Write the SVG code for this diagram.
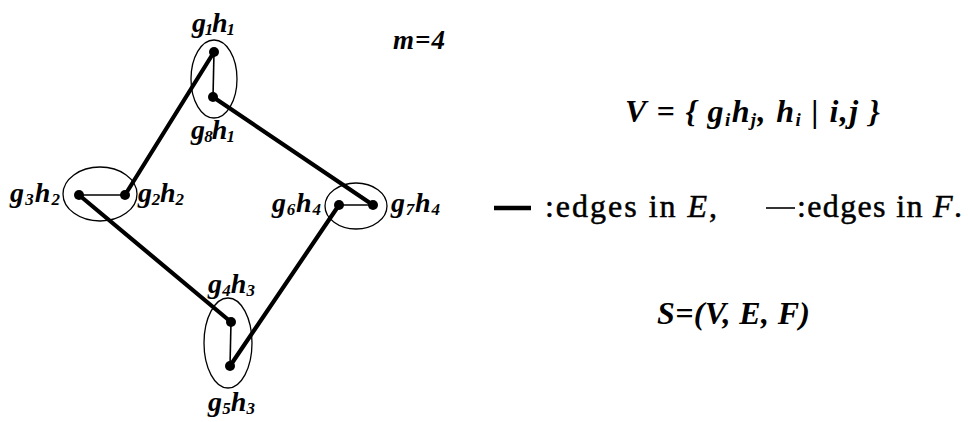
<svg xmlns="http://www.w3.org/2000/svg" width="968" height="422" viewBox="0 0 968 422">
<style>
.bg{fill:#fff}
.ring{fill:none;stroke:#000;stroke-width:1.3}
.dot{fill:#000}
.e{stroke:#000;stroke-width:4.2;stroke-linecap:round}
.f{stroke:#000;stroke-width:1.6}
.lbl{font-family:"Liberation Serif",serif;font-weight:bold;font-style:italic;font-size:28px;fill:#000}
.sub{font-size:17px}
.big{font-size:32px}
.bigsub{font-size:19px}
.mm{font-size:27px}
.txt{font-family:"Liberation Serif",serif;font-size:32px;fill:#000;stroke:#000;stroke-width:0.5}
.it{font-style:italic}
</style>
<rect class="bg" width="968" height="422"/>
<g id="connectors">
<line class="e" x1="214" y1="52" x2="125" y2="195"/>
<line class="e" x1="213" y1="97" x2="373" y2="205"/>
<line class="e" x1="79" y1="195" x2="231" y2="322"/>
<line class="e" x1="339" y1="205" x2="230" y2="366"/>
<line class="f" x1="214" y1="52" x2="213" y2="97"/>
<line class="f" x1="79" y1="195" x2="125" y2="195"/>
<line class="f" x1="339" y1="205" x2="373" y2="205"/>
<line class="f" x1="231" y1="322" x2="230" y2="366"/>
</g>
<g id="group1">
<ellipse class="ring" cx="214" cy="79" rx="23" ry="39"/>
<circle class="dot" cx="214" cy="52" r="5"/>
<circle class="dot" cx="213" cy="97" r="5"/>
<text class="lbl" x="192" y="32" textLength="43">g<tspan class="sub" dy="3">1</tspan><tspan dy="-3">h</tspan><tspan class="sub" dy="3">1</tspan></text>
<text class="lbl" x="191" y="139" textLength="44">g<tspan class="sub" dy="3">8</tspan><tspan dy="-3">h</tspan><tspan class="sub" dy="3">1</tspan></text>
</g>
<g id="group2">
<ellipse class="ring" cx="100" cy="194" rx="37" ry="27"/>
<circle class="dot" cx="79" cy="195" r="5"/>
<circle class="dot" cx="125" cy="195" r="5"/>
<text class="lbl" x="10" y="202" textLength="50">g<tspan class="sub" dy="3">3</tspan><tspan dy="-3">h</tspan><tspan class="sub" dy="3">2</tspan></text>
<text class="lbl" x="138" y="202" textLength="46">g<tspan class="sub" dy="3">2</tspan><tspan dy="-3">h</tspan><tspan class="sub" dy="3">2</tspan></text>
</g>
<g id="group3">
<ellipse class="ring" cx="356" cy="206" rx="31" ry="23"/>
<circle class="dot" cx="339" cy="205" r="5"/>
<circle class="dot" cx="373" cy="205" r="5"/>
<text class="lbl" x="272" y="212" textLength="49">g<tspan class="sub" dy="3">6</tspan><tspan dy="-3">h</tspan><tspan class="sub" dy="3">4</tspan></text>
<text class="lbl" x="391" y="212" textLength="49">g<tspan class="sub" dy="3">7</tspan><tspan dy="-3">h</tspan><tspan class="sub" dy="3">4</tspan></text>
</g>
<g id="group4">
<ellipse class="ring" cx="228" cy="343" rx="24" ry="45"/>
<circle class="dot" cx="231" cy="322" r="5"/>
<circle class="dot" cx="230" cy="366" r="5"/>
<text class="lbl" x="208" y="293" textLength="47">g<tspan class="sub" dy="3">4</tspan><tspan dy="-3">h</tspan><tspan class="sub" dy="3">3</tspan></text>
<text class="lbl" x="208" y="411" textLength="47">g<tspan class="sub" dy="3">5</tspan><tspan dy="-3">h</tspan><tspan class="sub" dy="3">3</tspan></text>
</g>
<g id="annotations">
<text class="lbl mm" x="393" y="49" textLength="52">m=4</text>
<text class="lbl big" x="625" y="122" textLength="255">V = {  g<tspan class="bigsub" dy="4">i</tspan><tspan dy="-4">h</tspan><tspan class="bigsub" dy="4">j</tspan><tspan dy="-4">,  h</tspan><tspan class="bigsub" dy="4">i</tspan><tspan dy="-4"> | i,j }</tspan></text>
<line x1="494" y1="208" x2="531" y2="208" stroke="#000" stroke-width="4.5"/>
<text class="txt" x="545" y="217" textLength="172">:edges in <tspan class="it">E</tspan>,</text>
<line x1="766" y1="208" x2="795" y2="208" stroke="#000" stroke-width="1.6"/>
<text class="txt" x="797" y="217" textLength="165">:edges in <tspan class="it">F</tspan>.</text>
<text class="lbl big" x="657" y="324" textLength="153">S=(V, E, F)</text>
</g>
</svg>
